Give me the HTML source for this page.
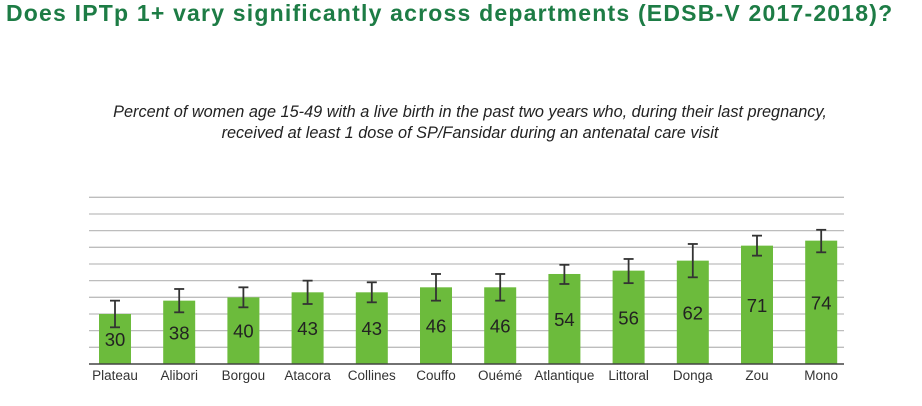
<!DOCTYPE html>
<html><head><meta charset="utf-8"><style>
body{margin:0;width:922px;height:406px;background:#fff;overflow:hidden;font-family:"Liberation Sans",sans-serif}
#title{position:absolute;left:6px;top:0px;font-size:23px;letter-spacing:1.2px;font-weight:bold;color:#1d7c45;white-space:nowrap}
#sub{position:absolute;left:0;width:940px;top:102px;text-align:center;font-style:italic;font-size:16.3px;color:#222;line-height:21px}
svg{position:absolute;left:0;top:0}
</style></head><body>
<div id="title">Does IPTp 1+ vary significantly across departments (EDSB-V 2017-2018)?</div>
<div id="sub">Percent of women age 15-49 with a live birth in the past two years who, during their last pregnancy,<br>received at least 1 dose of SP/Fansidar during an antenatal care visit</div>
<svg id="c" width="922" height="406"></svg>
<script>
const categories=["Plateau","Alibori","Borgou","Atacora","Collines","Couffo","Ouémé","Atlantique","Littoral","Donga","Zou","Mono"];
const values=[30,38,40,43,43,46,46,54,56,62,71,74];
const ciLow=[22,31,34,36,37,38,38,48,48.5,52,65,67];
const ciHigh=[38,45,46,50,49,54,54,59.5,63,72,77,80.5];
const yTicks=[0,10,20,30,40,50,60,70,80,90,100];
const NS="http://www.w3.org/2000/svg";
const svg=document.getElementById('c');
const x0=89,x1=844,base=364,plotTop=197.3;
const y=v=>base-(v/100)*(base-plotTop);
const step=64.2,bw=32;
const cx=i=>115+i*step;
function mk(t,a){const e=document.createElementNS(NS,t);for(const k in a)e.setAttribute(k,a[k]);svg.appendChild(e);return e;}
yTicks.forEach(t=>{if(t===0)return;const l=mk('line',{x1:x0,x2:x1,y1:y(t),y2:y(t),stroke:'#bdbdbd','stroke-width':1.3});

});
categories.forEach((c,i)=>{
 const r=mk('rect',{x:cx(i)-bw/2,y:y(values[i]),width:bw,height:base-y(values[i]),fill:'#6cbb3c'});
 
 
 const g=[[cx(i),y(ciLow[i]),cx(i),y(ciHigh[i])],[cx(i)-5,y(ciLow[i]),cx(i)+5,y(ciLow[i])],[cx(i)-5,y(ciHigh[i]),cx(i)+5,y(ciHigh[i])]];
 g.forEach(p=>{const l=mk('line',{x1:p[0],y1:p[1],x2:p[2],y2:p[3],stroke:'#333','stroke-width':1.8});
 
 });
 const v=mk('text',{x:cx(i),y:(y(values[i])+base)/2+7,'text-anchor':'middle','font-size':18.5,fill:'#222'});
 v.textContent=values[i];
 
 
 const lb=mk('text',{x:cx(i),y:380,'text-anchor':'middle','font-size':13.5,fill:'#333'});
 lb.textContent=c;
 
 
});
const ax=mk('line',{x1:x0,x2:x1,y1:base,y2:base,stroke:'#444','stroke-width':1.5});


</script>
</body></html>
